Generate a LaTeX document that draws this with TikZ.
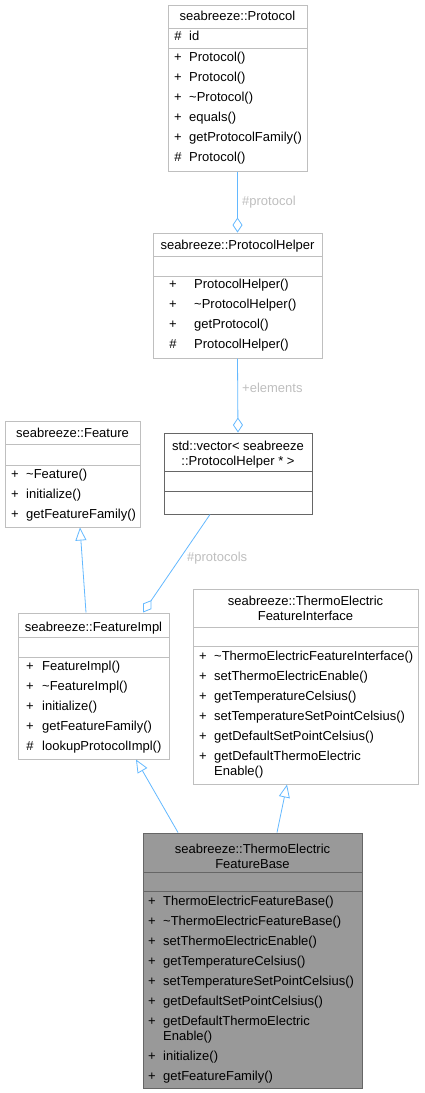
\documentclass[tikz,border=0pt]{standalone}
\usepackage{fontspec}
\setmainfont{Liberation Sans}
\usetikzlibrary{arrows.meta}
\definecolor{edgeblue}{HTML}{63B8FF}
\definecolor{boxgrey}{HTML}{BFBFBF}
\definecolor{darkgrey}{HTML}{666666}
\definecolor{basefill}{HTML}{999999}
\definecolor{labelgrey}{HTML}{BEBEBE}

\begin{document}
\begin{tikzpicture}[x=1pt,y=-1pt,
every node/.style={font=\fontsize{13}{15}\selectfont, inner sep=0pt},
classbox/.style={draw=boxgrey, line width=1pt, rectangle},
vecbox/.style={draw=darkgrey, line width=1pt, rectangle},
curbox/.style={draw=darkgrey, fill=basefill, line width=1pt, rectangle},
sepline/.style={boxgrey, line width=1pt},
darksep/.style={darkgrey, line width=1pt},
title/.style={anchor=base, align=center},
vis/.style={anchor=base},
member/.style={anchor=base west, align=left},
elabel/.style={anchor=base west, text=labelgrey},
aggr/.style={edgeblue, line width=0.8pt, -{Diamond[open, length=15pt, width=10pt]}},
inherit/.style={edgeblue, line width=0.8pt, -{Triangle[open, length=13pt, width=11pt]}}]
\useasboundingbox (0,0) rectangle (424,1093);
%================================================================
%	Boxes
\node[classbox, minimum width=139, minimum height=166] (protocol) at (237.5,88) {};
\node[classbox, minimum width=169, minimum height=125] (helper) at (237.5,295.5) {};
\node[vecbox, minimum width=148, minimum height=81] (vector) at (238,473.5) {};
\node[classbox, minimum width=135, minimum height=106] (feature) at (72.5,474) {};
\node[classbox, minimum width=151, minimum height=146] (featureimpl) at (93.5,686) {};
\node[classbox, minimum width=225, minimum height=195] (interface) at (305.5,686.5) {};
\node[curbox, minimum width=219, minimum height=255] (base) at (252.5,960.5) {};
%----------------------------------------------------------------
\draw[sepline] (168,28) -- (307,28);
\draw[sepline] (168,48) -- (307,48);
\draw[sepline] (153,256) -- (322,256);
\draw[sepline] (153,276) -- (322,276);
\draw[darksep] (164,471) -- (312,471);
\draw[darksep] (164,491) -- (312,491);
\draw[sepline] (5,444) -- (140,444);
\draw[sepline] (5,465) -- (140,465);
\draw[sepline] (18,637) -- (169,637);
\draw[sepline] (18,657) -- (169,657);
\draw[sepline] (193,627) -- (418,627);
\draw[sepline] (193,646) -- (418,646);
\draw[darksep] (143,872) -- (362,872);
\draw[darksep] (143,891) -- (362,891);

%================================================================
%	Protocol
\node[title] (pt) at (237.5,20.5) {seabreeze::Protocol};
\node[vis] (pm0) at (178,40.5) {\#};
\node[member] (pa0) at (189,40.5) {id};
\node[vis] (pm1) at (178,61.5) {+};
\node[member] (pa1) at (189,61.5) {Protocol()};
\node[vis] (pm2) at (178,81.5) {+};
\node[member] (pa2) at (189,81.5) {Protocol()};
\node[vis] (pm3) at (178,101.5) {+};
\node[member] (pa3) at (189,101.5) {\textasciitilde Protocol()};
\node[vis] (pm4) at (178,121.5) {+};
\node[member] (pa4) at (189,121.5) {equals()};
\node[vis] (pm5) at (178,141.5) {+};
\node[member] (pa5) at (189,141.5) {getProtocolFamily()};
\node[vis] (pm6) at (178,161.5) {\#};
\node[member] (pa6) at (189,161.5) {Protocol()};
%----------------------------------------------------------------
%	ProtocolHelper
\node[title] (ht) at (237.5,249.5) {seabreeze::ProtocolHelper};
\node[vis] (hm1) at (173,288.5) {+};
\node[member] (ha1) at (194,288.5) {ProtocolHelper()};
\node[vis] (hm2) at (173,308.5) {+};
\node[member] (ha2) at (194,308.5) {\textasciitilde ProtocolHelper()};
\node[vis] (hm3) at (173,328.5) {+};
\node[member] (ha3) at (194,328.5) {getProtocol()};
\node[vis] (hm4) at (173,348.5) {\#};
\node[member] (ha4) at (194,348.5) {ProtocolHelper()};
%----------------------------------------------------------------
%	vector
\node[title] (vt) at (238,465.5) {std::vector< seabreeze\\::ProtocolHelper * >};
%----------------------------------------------------------------
%	Feature
\node[title] (ft) at (72.5,437.5) {seabreeze::Feature};
\node[vis] (fm1) at (15,478.5) {+};
\node[member] (fa1) at (26,478.5) {\textasciitilde Feature()};
\node[vis] (fm2) at (15,498.5) {+};
\node[member] (fa2) at (26,498.5) {initialize()};
\node[vis] (fm3) at (15,518.5) {+};
\node[member] (fa3) at (26,518.5) {getFeatureFamily()};
%----------------------------------------------------------------
%	FeatureImpl
\node[title] (it) at (93.5,631.5) {seabreeze::FeatureImpl};
\node[vis] (im1) at (30,670.5) {+};
\node[member] (ia1) at (42,670.5) {FeatureImpl()};
\node[vis] (im2) at (30,690.5) {+};
\node[member] (ia2) at (42,690.5) {\textasciitilde FeatureImpl()};
\node[vis] (im3) at (30,710.5) {+};
\node[member] (ia3) at (42,710.5) {initialize()};
\node[vis] (im4) at (30,730.5) {+};
\node[member] (ia4) at (42,730.5) {getFeatureFamily()};
\node[vis] (im5) at (30,750.5) {\#};
\node[member] (ia5) at (42,750.5) {lookupProtocolImpl()};
%----------------------------------------------------------------
%	ThermoElectricFeatureInterface
\node[title] (tt) at (305.5,620.5) {seabreeze::ThermoElectric\\FeatureInterface};
\node[vis] (tm1) at (203,660.5) {+};
\node[member] (ta1) at (214,660.5) {\textasciitilde ThermoElectricFeatureInterface()};
\node[vis] (tm2) at (203,680.5) {+};
\node[member] (ta2) at (214,680.5) {setThermoElectricEnable()};
\node[vis] (tm3) at (203,700.5) {+};
\node[member] (ta3) at (214,700.5) {getTemperatureCelsius()};
\node[vis] (tm4) at (203,720.5) {+};
\node[member] (ta4) at (214,720.5) {setTemperatureSetPointCelsius()};
\node[vis] (tm5) at (203,740.5) {+};
\node[member] (ta5) at (214,740.5) {getDefaultSetPointCelsius()};
\node[vis] (tm6) at (203,760.5) {+};
\node[member] (ta6) at (214,775.5) {getDefaultThermoElectric\\Enable()};
%----------------------------------------------------------------
%	ThermoElectricFeatureBase
\node[title] (bt) at (252.5,868.5) {seabreeze::ThermoElectric\\FeatureBase};
\node[vis] (bm1) at (152,905.5) {+};
\node[member] (ba1) at (163,905.5) {ThermoElectricFeatureBase()};
\node[vis] (bm2) at (152,925.5) {+};
\node[member] (ba2) at (163,925.5) {\textasciitilde ThermoElectricFeatureBase()};
\node[vis] (bm3) at (152,945.5) {+};
\node[member] (ba3) at (163,945.5) {setThermoElectricEnable()};
\node[vis] (bm4) at (152,965.5) {+};
\node[member] (ba4) at (163,965.5) {getTemperatureCelsius()};
\node[vis] (bm5) at (152,985.5) {+};
\node[member] (ba5) at (163,985.5) {setTemperatureSetPointCelsius()};
\node[vis] (bm6) at (152,1005.5) {+};
\node[member] (ba6) at (163,1005.5) {getDefaultSetPointCelsius()};
\node[vis] (bm7) at (152,1025.5) {+};
\node[member] (ba7) at (163,1040.5) {getDefaultThermoElectric\\Enable()};
\node[vis] (bm8) at (152,1060.5) {+};
\node[member] (ba8) at (163,1060.5) {initialize()};
\node[vis] (bm9) at (152,1080.5) {+};
\node[member] (ba9) at (163,1080.5) {getFeatureFamily()};

%================================================================
%	Lines
\draw[aggr] (protocol.south) -- (helper.north);
\draw[aggr] (helper.south) -- (vector.north);
\draw[aggr] ([xshift=-28]vector.south) -- ([xshift=49.5]featureimpl.north);
%----------------------------------------------------------------
\draw[inherit] ([xshift=-7.5]featureimpl.north) -- ([xshift=7.5]feature.south);
\draw[inherit] ([xshift=-74.5]base.north) -- ([xshift=42.5]featureimpl.south);
\draw[inherit] ([xshift=24.5]base.north) -- ([xshift=-18.5]interface.south);
%----------------------------------------------------------------
\node[elabel] (l1) at (242,205.5) {\#protocol};
\node[elabel] (l2) at (242,392.5) {+elements};
\node[elabel] (l3) at (187,561.5) {\#protocols};
%================================================================
\end{tikzpicture}
\end{document}
